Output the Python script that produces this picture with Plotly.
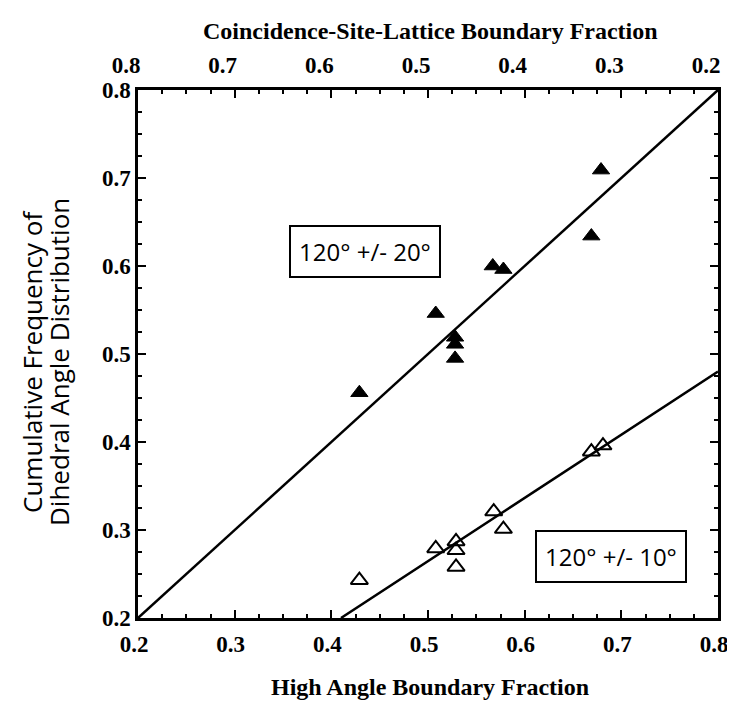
import plotly.graph_objects as go

# Data
hab_20 = [0.429, 0.508, 0.528, 0.528, 0.528, 0.567, 0.578, 0.669, 0.679]
cum_20 = [0.456, 0.546, 0.519, 0.511, 0.495, 0.600, 0.596, 0.634, 0.709]

hab_10 = [0.429, 0.508, 0.529, 0.529, 0.529, 0.568, 0.578, 0.669, 0.681]
cum_10 = [0.243, 0.279, 0.287, 0.277, 0.258, 0.321, 0.301, 0.389, 0.396]

fit20_x = [0.2, 0.8]
fit20_y = [0.2, 0.8]
fit10_x = [0.41, 0.8]
fit10_y = [0.2, 0.48]

ticks = [0.2, 0.3, 0.4, 0.5, 0.6, 0.7, 0.8]
tick_labels = ["0.2", "0.3", "0.4", "0.5", "0.6", "0.7", "0.8"]

SERIF = "Liberation Serif"
SANS = "Open Sans"

fig = go.Figure()
fig.add_trace(go.Scatter(x=fit20_x, y=fit20_y, mode="lines",
                         line=dict(color="black", width=2.5), showlegend=False))
fig.add_trace(go.Scatter(x=fit10_x, y=fit10_y, mode="lines",
                         line=dict(color="black", width=2.5), showlegend=False))
fig.add_trace(go.Scatter(x=hab_20, y=cum_20, mode="markers",
                         marker=dict(symbol="triangle-up", size=15, color="black",
                                     line=dict(color="black", width=1)),
                         showlegend=False))
fig.add_trace(go.Scatter(x=hab_10, y=cum_10, mode="markers",
                         marker=dict(symbol="triangle-up-open", size=15, color="black",
                                     line=dict(color="black", width=2)),
                         showlegend=False))
# invisible trace to activate the top axis
fig.add_trace(go.Scatter(x=[0.5], y=[0.5], xaxis="x2", mode="markers",
                         marker=dict(opacity=0), showlegend=False, hoverinfo="skip"))

axis_common = dict(showgrid=False, zeroline=False, showline=True, linecolor="black",
                   linewidth=2.5, ticks="inside", ticklen=8, tickwidth=2,
                   tickcolor="black", automargin=False, ticklabeloverflow="allow",
                   tickfont=dict(family=SERIF, size=23, color="black", weight="bold"),
                   minor=dict(ticks="inside", dtick=0.025, ticklen=4,
                              tickwidth=1.5, tickcolor="black"))

title_font = dict(family=SERIF, size=24, color="black", weight="bold")
ytitle_font = dict(family=SANS, size=26, color="black")
box_font = dict(family=SANS, size=24, color="black")

# page body has an 8px margin: the figure is sized/shifted to compensate
fig.update_layout(
    width=727, height=696,
    margin=dict(l=130, r=17, t=82, b=86),
    plot_bgcolor="white", paper_bgcolor="white",
    font=dict(family=SERIF, color="black"),
    xaxis=dict(range=[0.2, 0.8], tickvals=ticks, ticktext=tick_labels,
               mirror=True, ticklabelstandoff=4, ticklabelshift=-4, **axis_common),
    xaxis2=dict(range=[0.8, 0.2], overlaying="x", side="top",
                tickvals=ticks, ticktext=tick_labels, ticklabelshift=12,
                ticklabelstandoff=5, **axis_common),
    yaxis=dict(range=[0.2, 0.8], tickvals=ticks, ticktext=tick_labels,
               mirror="ticks", **axis_common),
    annotations=[
        dict(x=0.504, y=1, xref="paper", yref="paper", yshift=59,
             text="Coincidence-Site-Lattice Boundary Fraction",
             showarrow=False, font=title_font, xanchor="center", yanchor="middle"),
        dict(x=0.504, y=0, xref="paper", yref="paper", yshift=-69,
             text="High Angle Boundary Fraction",
             showarrow=False, font=title_font, xanchor="center", yanchor="middle"),
        dict(x=0, y=0.5, xref="paper", yref="paper", xshift=-106, yshift=-8,
             text="Cumulative Frequency of", textangle=-90,
             showarrow=False, font=ytitle_font, xanchor="center", yanchor="middle"),
        dict(x=0, y=0.5, xref="paper", yref="paper", xshift=-79, yshift=-8,
             text="Dihedral Angle Distribution", textangle=-90,
             showarrow=False, font=ytitle_font, xanchor="center", yanchor="middle"),
        dict(x=0.435, y=0.617, xref="x", yref="y", text="120° +/- 20°",
             showarrow=False, font=box_font,
             bordercolor="black", borderwidth=2, borderpad=8, bgcolor="white"),
        dict(x=0.689, y=0.270, xref="x", yref="y", text="120° +/- 10°",
             showarrow=False, font=box_font,
             bordercolor="black", borderwidth=2, borderpad=8, bgcolor="white"),
    ],
)

fig.write_html("out.html")
